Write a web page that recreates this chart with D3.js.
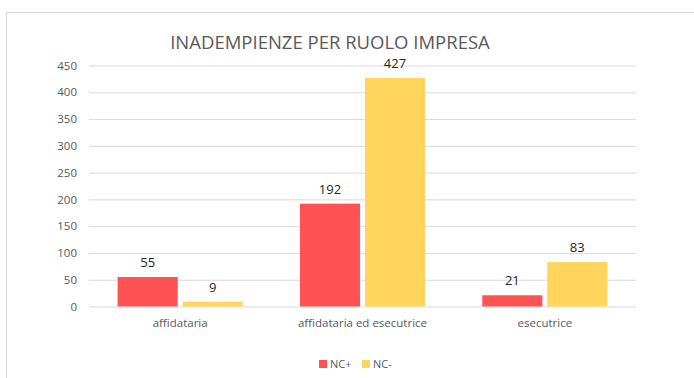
<!DOCTYPE html>
<html>
<head>
<meta charset="utf-8">
<script src="https://cdn.jsdelivr.net/npm/d3@7"></script>
<style>
  html, body { margin: 0; padding: 0; background: #fff; }
  svg { display: block; }
  text { font-family: "Open Sans", "Liberation Sans", sans-serif; }
</style>
</head>
<body>
<svg id="chart" width="694" height="378"></svg>
<script>
// Inadempienze per ruolo impresa
const categories = ["affidataria", "affidataria ed esecutrice", "esecutrice"];
const seriesNames = ["NC+", "NC-"];
const ncPlus = [55, 192, 21];
const ncMinus = [9, 427, 83];
const yTicks = [0, 50, 100, 150, 200, 250, 300, 350, 400, 450];
const colors = ["#ff5353", "#ffd55e"];

const svg = d3.select("#chart");
const W = 694, H = 378;
const plot = { left: 89, right: 636, top: 65.5, bottom: 306.5 };

// chart area frame (top and left edges visible)
svg.append("rect")
  .attr("x", 6.5).attr("y", 12.5)
  .attr("width", W).attr("height", H)
  .attr("fill", "#fff").attr("stroke", "#d9d9d9").attr("stroke-width", 1);

svg.append("text")
  .attr("x", 330).attr("y", 48.5)
  .attr("text-anchor", "middle")
  .attr("font-size", 18.5)
  .attr("fill", "#595959")
  .text("INADEMPIENZE PER RUOLO IMPRESA");

const y = d3.scaleLinear().domain([0, 450]).range([plot.bottom, plot.top]);
const x0 = d3.scaleBand().domain(categories).range([plot.left, plot.right]).paddingInner(0.314).paddingOuter(0.157);
const x1 = d3.scaleBand().domain(seriesNames).range([0, x0.bandwidth()]).paddingInner(0.075);

// gridlines + tick labels
const yAxis = d3.axisLeft(y).tickValues(yTicks).tickSize(-(plot.right - plot.left)).tickPadding(12);
const gy = svg.append("g").attr("transform", `translate(${plot.left},0)`).call(yAxis);
gy.select(".domain").remove();
gy.selectAll(".tick line").attr("stroke", "#d9d9d9").attr("stroke-width", 1);
gy.selectAll(".tick text")
  .attr("font-size", 11.5).attr("fill", "#595959")
  .attr("font-family", "'Open Sans', sans-serif");

// category labels
const xAxis = d3.axisBottom(x0).tickSize(0).tickPadding(12);
const gx = svg.append("g").attr("transform", `translate(0,${plot.bottom})`).call(xAxis);
gx.select(".domain").remove();
gx.selectAll(".tick text")
  .attr("font-size", 11.5).attr("fill", "#595959")
  .attr("font-family", "'Open Sans', sans-serif");

const rows = categories.map((c, i) => ({ cat: c, vals: [ncPlus[i], ncMinus[i]] }));

const groups = svg.append("g").selectAll("g").data(rows).join("g")
  .attr("transform", d => `translate(${x0(d.cat)},0)`);

groups.selectAll("rect").data(d => d.vals.map((v, j) => ({ s: seriesNames[j], v, j })))
  .join("rect")
  .attr("x", d => x1(d.s))
  .attr("y", d => y(d.v))
  .attr("width", x1.bandwidth())
  .attr("height", d => y(0) - y(d.v))
  .attr("fill", d => colors[d.j]);

groups.selectAll("text.val").data(d => d.vals.map((v, j) => ({ s: seriesNames[j], v, j })))
  .join("text")
  .attr("class", "val")
  .attr("x", d => x1(d.s) + x1.bandwidth() / 2)
  .attr("y", d => y(d.v) - 10)
  .attr("text-anchor", "middle")
  .attr("font-size", 13)
  .attr("fill", "#262626")
  .text(d => d.v);

// legend
const legend = svg.append("g");
const legendX = [319, 362];
seriesNames.forEach((s, i) => {
  legend.append("rect")
    .attr("x", legendX[i]).attr("y", 360)
    .attr("width", 8).attr("height", 8)
    .attr("fill", colors[i]);
  legend.append("text")
    .attr("x", legendX[i] + 11).attr("y", 368)
    .attr("font-size", 11).attr("fill", "#595959")
    .text(s);
});
</script>
</body>
</html>
